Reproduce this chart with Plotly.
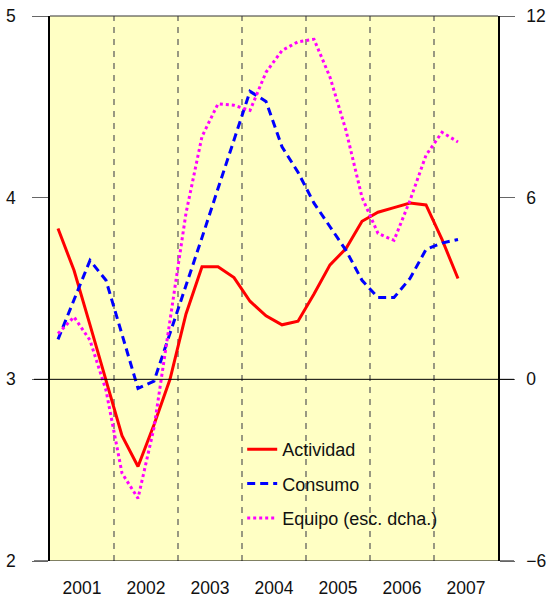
import numpy as np
import plotly.graph_objects as go

years = ['2001', '2002', '2003', '2004', '2005', '2006', '2007']
actividad = [3.83, 3.60, 3.30, 3.00, 2.69, 2.52, 2.75, 3.00, 3.36, 3.62, 3.62, 3.56, 3.43,
             3.35, 3.30, 3.32, 3.47, 3.63, 3.72, 3.87, 3.92, 3.945, 3.97, 3.96, 3.77, 3.555]
consumo = [3.22, 3.44, 3.655, 3.545, 3.25, 2.95, 2.99, 3.25, 3.515, 3.78, 4.05, 4.32, 4.585,
           4.53, 4.28, 4.14, 3.97, 3.84, 3.71, 3.545, 3.45, 3.45, 3.555, 3.715, 3.75, 3.77]
equipo = [1.51, 2.06, 1.29, -0.36, -3.1, -3.93, -1.6, 1.9, 5.49, 8.02, 9.1, 9.05, 8.88,
          10.14, 10.86, 11.15, 11.23, 9.98, 8.22, 6.01, 4.82, 4.59, 5.91, 7.40, 8.16, 7.84]

nq = len(years) * 4
xq = np.arange(len(actividad)) + 0.5
year_centers = [4 * i + 2 for i in range(len(years))]

FONT = "Liberation Sans, Arial, sans-serif"

fig = go.Figure()
fig.add_trace(go.Scatter(x=xq, y=actividad, name='Actividad', mode='lines',
                         line=dict(color='#FF0000', width=3), legendgroup='a'))
fig.add_trace(go.Scatter(x=xq, y=consumo, name='Consumo', mode='lines',
                         line=dict(color='#0000FF', width=3, dash='8px,5px'), legendgroup='b'))
fig.add_trace(go.Scatter(x=xq, y=equipo, name='Equipo (esc. dcha.)', mode='lines',
                         line=dict(color='#FF00FF', width=3, dash='3px,3px'), yaxis='y2',
                         legendgroup='c'))

shapes = []
for k in range(1, len(years)):
    shapes.append(dict(type='line', xref='x', yref='paper', x0=4 * k, x1=4 * k, y0=0, y1=1,
                       line=dict(color='#555555', width=1.2, dash='6px,6px'), layer='below'))
ext = 16 / 448
for yv in [2, 3]:
    shapes.append(dict(type='line', xref='paper', yref='y', x0=-ext, x1=1 + ext, y0=yv, y1=yv,
                       line=dict(color='#000000', width=1)))
shapes.append(dict(type='line', xref='paper', yref='paper', x0=0, x1=1, y0=1, y1=1,
                   line=dict(color='#333333', width=1)))

fig.update_layout(
    width=546, height=597,
    margin=dict(l=50, r=48, t=16, b=36, autoexpand=False),
    paper_bgcolor='white', plot_bgcolor='#FFFFC4',
    font=dict(family=FONT, size=17.5, color='#111111'),
    showlegend=True,
    legend=dict(x=0.429, y=0.2385, xanchor='left', yanchor='top', bgcolor='rgba(0,0,0,0)',
                font=dict(family=FONT, size=18), tracegroupgap=8, itemwidth=30),
    xaxis=dict(range=[0, nq], tickvals=year_centers, ticktext=years, ticks='',
               showgrid=False, zeroline=False, showline=False, ticklabelstandoff=14,
               automargin=False),
    yaxis=dict(range=[2, 5], tickvals=[2, 3, 4, 5], ticks='outside', ticklen=16,
               tickcolor='#666666', showgrid=False, zeroline=False, showline=True,
               linecolor='#000000', linewidth=1.5, ticklabelstandoff=13, automargin=False),
    yaxis2=dict(range=[-6, 12], tickvals=[-6, 0, 6, 12], ticks='outside', ticklen=15,
                tickcolor='#666666', overlaying='y', side='right', showgrid=False,
                zeroline=False, showline=True, linecolor='#000000', linewidth=1.5,
                ticklabelstandoff=8, automargin=False),
    shapes=shapes,
)

# remove the default 8px page margin so the figure sits at the window's corner
fig.write_html("out.html", config={'displayModeBar': False},
               post_script="document.body.style.margin='0';document.body.style.overflow='hidden';")
